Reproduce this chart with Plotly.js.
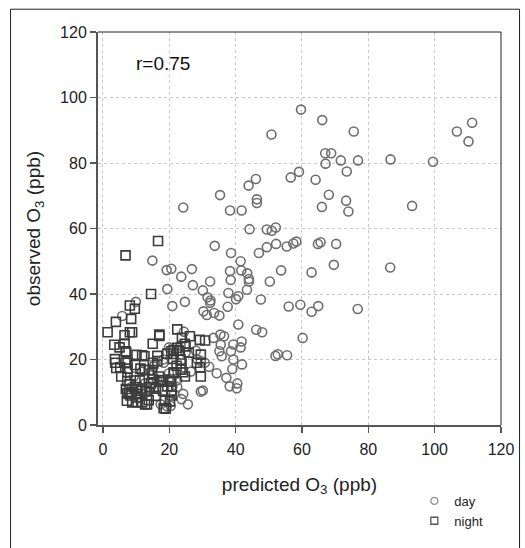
<!DOCTYPE html>
<html>
<head>
<meta charset="utf-8">
<script src="https://cdn.plot.ly/plotly-3.0.1.min.js"></script>
<style>
html,body{margin:0;padding:0;background:#fff;}
#chart{width:525px;height:548px;}
</style>
</head>
<body>
<div id="chart"></div>
<script>
var dayX = [59.7,66.1,50.8,75.6,106.7,111.3,110.2,67.0,68.8,67.1,71.7,76.9,86.7,99.5,73.5,59.1,56.6,64.1,46.1,43.9,35.3,68.1,46.4,46.4,73.3,24.2,38.3,41.8,66.0,74.0,93.2,44.2,49.4,50.9,52.1,33.7,52.2,49.4,55.4,57.4,58.3,64.8,65.6,70.3,38.6,47.0,41.5,14.9,19.2,20.6,26.8,38.3,41.7,53.7,69.6,86.6,62.9,23.6,38.5,43.5,44.0,44.0,50.3,19.4,27.1,32.3,30.1,43.4,37.8,40.8,40.1,31.5,32.4,32.3,47.6,24.7,20.9,9.9,5.8,37.6,56.0,59.5,64.9,76.8,62.9,30.3,31.3,33.5,35.1,40.8,46.2,48.0,60.2,33.3,35.4,36.5,24.4,35.5,39.3,41.8,41.5,35.1,35.8,38.6,39.3,41.9,52.0,52.7,55.5,39.0,34.3,37.2,38.2,40.3,40.5,29.5,30.1,25.6,24.2,23.7,32.0,30.7,26.5,28.0,19.9,18.3,18.2,15.6,22.4,22.4,17.4,19.3,20.4,21.4,15.3,12.6,16.3,14.8,15.3,11.8,9.3,8.6,12.3,10.8,13.8,28.5,29.5,23.4,24.9,19.9,20.9];
var dayY = [96.3,93.1,88.7,89.6,89.6,92.3,86.6,83.0,83.0,79.8,80.8,80.8,81.1,80.4,77.4,77.3,75.6,74.9,75.1,73.1,70.2,70.3,68.9,67.8,68.5,66.4,65.5,65.5,66.6,65.2,66.9,59.8,59.7,59.3,60.3,54.7,55.3,54.3,54.5,55.4,56.0,55.3,55.8,55.3,52.5,52.5,50.0,50.2,47.3,47.7,47.6,47.0,47.2,47.2,48.9,48.1,46.6,45.3,44.3,46.3,44.6,43.8,43.8,41.5,42.7,43.8,41.1,41.3,40.3,39.3,38.4,39.0,38.0,37.3,38.3,37.6,36.3,37.6,33.3,36.1,36.2,36.7,36.3,35.4,34.6,34.7,33.6,34.2,33.4,30.7,29.1,28.3,26.6,26.6,27.6,27.1,28.5,24.5,24.6,25.5,23.7,22.5,21.0,22.5,20.0,18.5,21.1,21.6,21.3,17.1,15.8,14.4,11.8,11.2,12.7,10.2,10.5,6.3,9.5,7.9,17.8,19.0,16.3,22.7,23.7,19.0,20.0,18.7,13.7,11.6,6.3,5.7,5.8,9.5,11.1,12.7,13.7,15.3,17.9,16.3,14.8,11.6,9.5,8.4,10.5,20.0,19.5,24.3,22.1,15.8,11.6];
var nightX = [1.4,16.6,6.8,14.5,8.1,9.6,8.5,3.9,8.1,8.8,6.5,17.0,17.0,22.4,23.8,26.2,29.2,30.8,15.0,3.4,6.5,5.0,6.8,7.0,10.1,11.8,12.5,16.4,19.4,20.6,21.3,22.4,22.9,25.9,29.5,3.6,3.7,4.0,6.8,7.4,5.2,5.5,7.3,7.4,9.7,11.3,12.6,13.8,14.8,15.1,7.3,8.0,9.8,11.1,6.9,7.3,7.8,8.3,7.2,8.8,10.4,11.8,12.7,13.3,10.5,11.5,12.8,14.1,16.9,17.4,16.0,18.1,18.6,18.3,18.9,20.2,20.6,20.6,20.1,21.3,21.4,22.2,23.4,23.7,24.1,24.7,23.4,21.3,21.1,24.7,24.9,28.3,29.3,29.5,15.0,16.4,14.5,16.0,18.2,19.4,20.7,11.8,10.1,8.6,10.1,13.8];
var nightY = [28.3,56.2,51.8,40.0,36.5,35.5,32.4,31.5,28.3,28.3,27.4,27.6,27.2,29.2,26.6,27.1,26.0,25.8,24.8,24.5,24.9,23.7,22.5,22.2,21.4,21.3,21.0,21.1,21.8,22.5,21.7,23.6,22.7,22.1,21.5,20.1,19.0,17.4,19.0,19.1,17.6,14.8,17.2,16.1,18.3,17.2,16.8,16.8,15.8,13.9,13.4,12.4,13.6,13.7,11.0,9.7,9.5,9.0,7.4,6.9,7.0,6.9,6.3,6.3,9.5,10.5,10.3,11.6,14.8,13.2,8.9,10.5,7.4,5.1,5.0,7.2,10.5,13.3,13.9,16.1,15.8,18.1,20.0,18.8,16.1,14.8,16.9,23.0,20.2,24.8,24.0,19.0,17.6,14.8,19.0,19.5,12.7,11.1,13.7,11.8,9.0,11.1,11.6,10.0,8.4,7.6];
var xTicks = [0,20,40,60,80,100,120];
var yTicks = [0,20,40,60,80,100,120];
var seriesNames = ['day','night'];
var annotationText = 'r=0.75';

var FONT = 'Liberation Sans, Arial, sans-serif';

var traces = [
  {x: dayX, y: dayY, name: seriesNames[0], type: 'scatter', mode: 'markers', showlegend: false,
   marker: {symbol: 'circle-open', size: 9, color: '#6e6e6e', line: {width: 1.6, color: '#6e6e6e'}}},
  {x: nightX, y: nightY, name: seriesNames[1], type: 'scatter', mode: 'markers', showlegend: false,
   marker: {symbol: 'square-open', size: 9, color: '#3c3c3c', line: {width: 1.6, color: '#3c3c3c'}}},
  // legend entries (smaller symbols as in the reference)
  {x: [null], y: [null], name: seriesNames[0], type: 'scatter', mode: 'markers', showlegend: true,
   marker: {symbol: 'circle-open', size: 7, color: '#888', line: {width: 1.3, color: '#888'}}},
  {x: [null], y: [null], name: seriesNames[1], type: 'scatter', mode: 'markers', showlegend: true,
   marker: {symbol: 'square-open', size: 7, color: '#555', line: {width: 1.3, color: '#555'}}}
];

var axisCommon = {
  showgrid: true, gridcolor: '#c8c8c8', griddash: 'dot', gridwidth: 1,
  zeroline: false, showline: true, linecolor: '#555', linewidth: 2,
  ticks: 'outside', ticklen: 6, tickwidth: 1.5, tickcolor: '#555',
  tickfont: {family: FONT, size: 16, color: '#222'},
  mirror: false
};

var layout = {
  width: 525, height: 548,
  margin: {l: 98, r: 24, t: 32, b: 117},
  paper_bgcolor: '#fff', plot_bgcolor: '#fff',
  showlegend: true,
  xaxis: Object.assign({}, axisCommon, {
    range: [-1.5, 120], tickvals: xTicks, ticktext: xTicks.map(String),
    ticklabelstandoff: 3,
    title: {text: 'predicted O<sub>3</sub> (ppb)', standoff: 20,
            font: {family: FONT, size: 19, color: '#222'}}
  }),
  yaxis: Object.assign({}, axisCommon, {
    range: [0, 120], tickvals: yTicks, ticktext: yTicks.map(String),
    title: {text: 'observed O<sub>3</sub> (ppb)', standoff: 14,
            font: {family: FONT, size: 19, color: '#222'}}
  }),
  legend: {
    x: 0.785, y: -0.155, xanchor: 'left', yanchor: 'top',
    font: {family: FONT, size: 13, color: '#222'},
    bgcolor: 'rgba(0,0,0,0)', tracegroupgap: 0, itemwidth: 30
  },
  annotations: [{
    text: annotationText, xref: 'x', yref: 'y', x: 9.3, y: 110.4,
    xanchor: 'left', yanchor: 'middle', showarrow: false,
    font: {family: FONT, size: 19, color: '#111'}
  }],
  shapes: [
    {type: 'line', xref: 'paper', yref: 'paper', x0: 0, x1: 1, y0: 1, y1: 1, line: {color: '#222', width: 1}},
    {type: 'line', xref: 'paper', yref: 'paper', x0: 1, x1: 1, y0: 0, y1: 1, line: {color: '#222', width: 1}},
    {type: 'rect', xref: 'paper', yref: 'paper', x0: -0.217, x1: 1.046, y0: -0.4, y1: 1.058, line: {color: '#222', width: 1}}
  ]
};

Plotly.newPlot('chart', traces, layout, {displayModeBar: false, staticPlot: true});
</script>
</body>
</html>
